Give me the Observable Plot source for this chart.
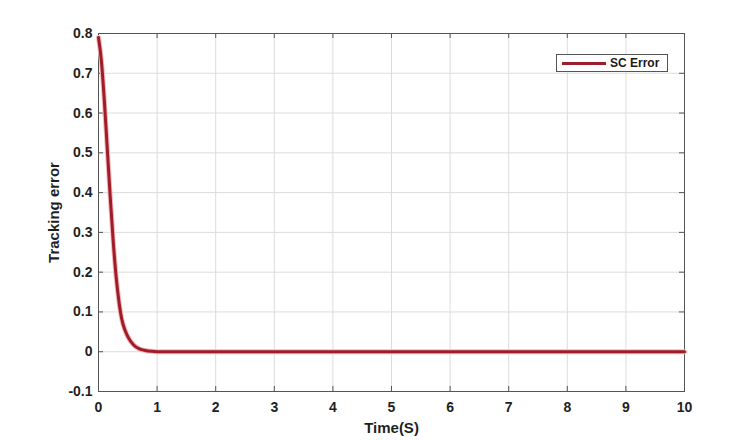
<!DOCTYPE html>
<html>
<head>
<meta charset="utf-8">
<script src="https://cdn.jsdelivr.net/npm/d3@7"></script>
<script src="https://cdn.jsdelivr.net/npm/@observablehq/plot@0.6"></script>
<style>
  body { margin: 0; background: #fff; }
  #wrap { position: relative; width: 756px; height: 440px; }
  #legend {
    position: absolute; left: 556px; top: 54px; width: 110px; height: 16px;
    border: 1px solid #555; background: #fff;
    font: bold 12px "Liberation Sans", Arial, sans-serif; color: #1a1a1a;
    display: flex; align-items: center;
  }
  #legend .sw { width: 44px; height: 3px; background: #a01c28; margin-left: 5px; margin-right: 4px; }
  g[aria-label="x-axis label"], g[aria-label="y-axis label"] { font-size: 15px; }
</style>
</head>
<body>
<div id="wrap"></div>
<script>
// Data
const time  = [0, 0.05, 0.1, 0.15, 0.2, 0.25, 0.3, 0.35, 0.4, 0.45, 0.5, 0.6, 0.7, 0.8, 0.9, 1.0, 2, 3, 4, 5, 6, 7, 8, 9, 10];
const error = [0.79, 0.73, 0.63, 0.51, 0.39, 0.28, 0.19, 0.125, 0.08, 0.055, 0.038, 0.017, 0.007, 0.003, 0.001, 0, 0, 0, 0, 0, 0, 0, 0, 0, 0];
const xTicks = [0, 1, 2, 3, 4, 5, 6, 7, 8, 9, 10];
const yTicks = [-0.1, 0, 0.1, 0.2, 0.3, 0.4, 0.5, 0.6, 0.7, 0.8];
const seriesName = "SC Error";

const rows = time.map((t, i) => ({t, e: error[i]}));
const W = 756, H = 440, mL = 98, mR = 72, mT = 33, mB = 49;
const pw = W - mL - mR, ph = H - mT - mB;

const chart = Plot.plot({
  width: W, height: H,
  marginLeft: mL, marginRight: mR, marginTop: mT, marginBottom: mB,
  style: {fontFamily: "'Liberation Sans', Arial, sans-serif", fontSize: "14px", fontWeight: "bold", color: "#1f1f1f", background: "#fff"},
  x: {domain: [0, 10]},
  y: {domain: [-0.1, 0.8]},
  marks: [
    Plot.gridX(xTicks, {stroke: "#dcdcdc", strokeOpacity: 1}),
    Plot.gridY(yTicks, {stroke: "#dcdcdc", strokeOpacity: 1}),
    Plot.tickX(xTicks, {x: d => d, insetTop: ph - 5, stroke: "#555"}),
    Plot.tickX(xTicks, {x: d => d, insetBottom: ph - 5, stroke: "#555"}),
    Plot.tickY(yTicks, {y: d => d, insetRight: pw - 5, stroke: "#555"}),
    Plot.tickY(yTicks, {y: d => d, insetLeft: pw - 5, stroke: "#555"}),
    Plot.frame({stroke: "#555"}),
    Plot.axisX(xTicks, {tickSize: 0, tickPadding: 11, label: "Time(S)", labelAnchor: "center", labelArrow: "none", labelOffset: 41, tickFormat: d => String(d), fill: "#1f1f1f"}),
    Plot.axisY(yTicks, {tickSize: 0, tickPadding: 6, label: "Tracking error", labelAnchor: "center", labelOffset: 50, labelArrow: "none", tickFormat: d => String(d), fill: "#1f1f1f"}),
    Plot.line(rows, {x: "t", y: "e", stroke: "#f2b9bd", strokeWidth: 5, curve: "monotone-x"}),
    Plot.line(rows, {x: "t", y: "e", stroke: "#a01c28", strokeWidth: 3, curve: "monotone-x"})
  ]
});
const wrap = document.getElementById("wrap");
wrap.appendChild(chart);
const lg = document.createElement("div");
lg.id = "legend";
lg.innerHTML = '<span class="sw"></span><span>' + seriesName + '</span>';
wrap.appendChild(lg);
</script>
</body>
</html>
